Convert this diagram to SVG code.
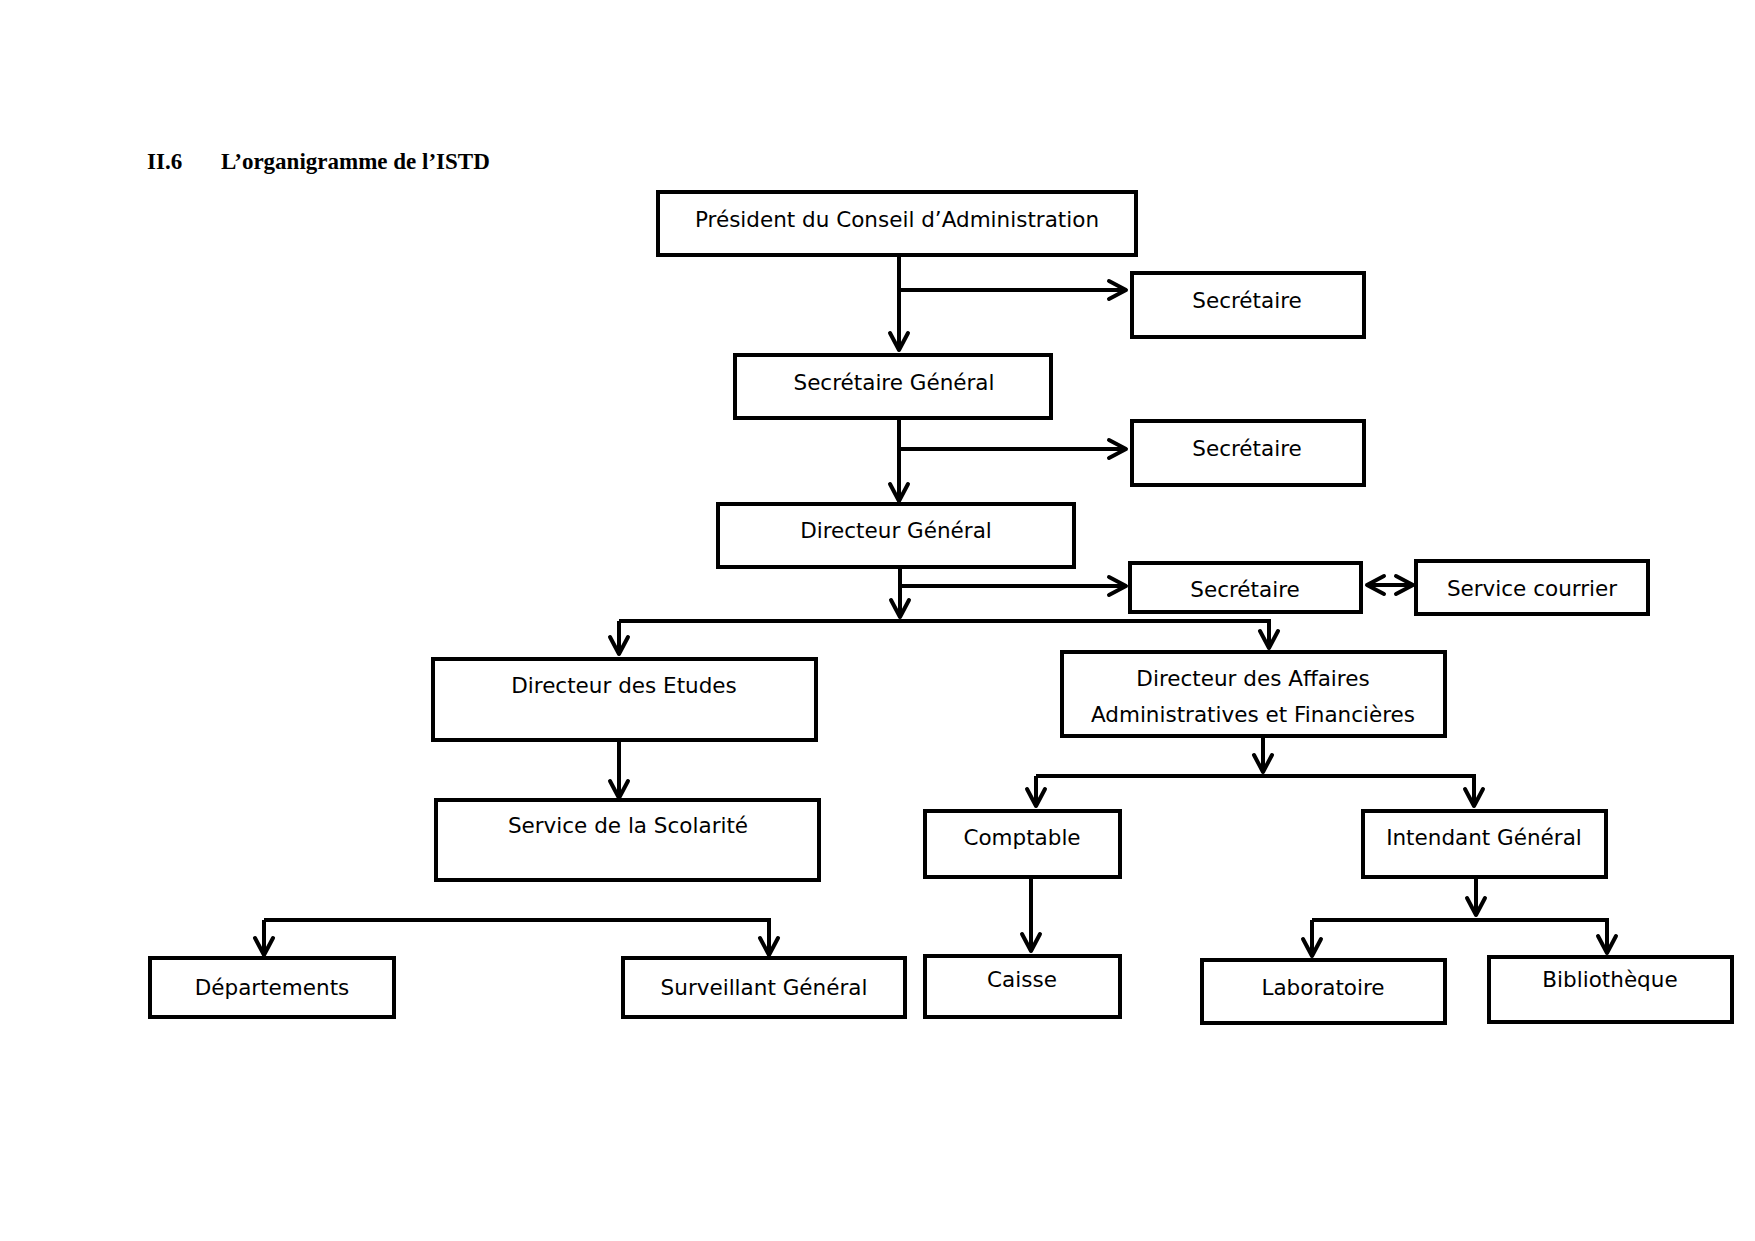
<svg xmlns="http://www.w3.org/2000/svg" width="1755" height="1241" viewBox="0 0 1755 1241">
<style>
.box{fill:#fff;stroke:#000;stroke-width:4}
.lbl{font-family:"Comic Sans MS","DejaVu Sans",sans-serif;font-size:21.5px;fill:#000;text-anchor:middle}
.ttl{font-family:"Liberation Serif","Times New Roman",serif;font-size:23px;font-weight:bold;fill:#000}
.con{fill:none;stroke:#000;stroke-width:4}
</style>
<defs>
<marker id="ah" markerUnits="userSpaceOnUse" viewBox="-22 -12 26 24" refX="0" refY="0" markerWidth="26" markerHeight="24" orient="auto-start-reverse">
<path d="M-17,-9 L0,0 L-17,9" fill="none" stroke="#000" stroke-width="4" stroke-linecap="round" stroke-linejoin="round"/>
</marker>
</defs>
<rect width="1755" height="1241" fill="#fff"/>
<g id="title">
<text class="ttl" x="147" y="169">II.6</text>
<text class="ttl" x="221" y="169">L’organigramme de l’ISTD</text>
</g>
<g id="connectors">
<path class="con" d="M899,254 V350" marker-end="url(#ah)"/>
<path class="con" d="M899,290 H1126" marker-end="url(#ah)"/>
<path class="con" d="M899,418 V501" marker-end="url(#ah)"/>
<path class="con" d="M899,449 H1126" marker-end="url(#ah)"/>
<path class="con" d="M900,565 V617" marker-end="url(#ah)"/>
<path class="con" d="M900,586 H1126" marker-end="url(#ah)"/>
<path class="con" d="M619,621 H1269 V648" marker-end="url(#ah)"/>
<path class="con" d="M619,621 V654" marker-end="url(#ah)"/>
<path class="con" d="M1367,585 H1413" marker-start="url(#ah)" marker-end="url(#ah)"/>
<path class="con" d="M619,740 V798" marker-end="url(#ah)"/>
<path class="con" d="M1263,736 V772" marker-end="url(#ah)"/>
<path class="con" d="M1036,776 H1474 V806" marker-end="url(#ah)"/>
<path class="con" d="M1036,776 V806" marker-end="url(#ah)"/>
<path class="con" d="M1031,877 V951" marker-end="url(#ah)"/>
<path class="con" d="M1476,877 V915" marker-end="url(#ah)"/>
<path class="con" d="M1312,920 H1607 V953" marker-end="url(#ah)"/>
<path class="con" d="M1312,920 V956" marker-end="url(#ah)"/>
<path class="con" d="M264,920 H769 V955" marker-end="url(#ah)"/>
<path class="con" d="M264,920 V955" marker-end="url(#ah)"/>
</g>
<g id="president"><rect class="box" x="658" y="192" width="478" height="63"/><text class="lbl" x="897" y="227">Président du Conseil d’Administration</text></g>
<g id="secretaire1"><rect class="box" x="1132" y="273" width="232" height="64"/><text class="lbl" x="1247" y="308">Secrétaire</text></g>
<g id="secretaire-general"><rect class="box" x="735" y="355" width="316" height="63"/><text class="lbl" x="894" y="390">Secrétaire Général</text></g>
<g id="secretaire2"><rect class="box" x="1132" y="421" width="232" height="64"/><text class="lbl" x="1247" y="456">Secrétaire</text></g>
<g id="directeur-general"><rect class="box" x="718" y="504" width="356" height="63"/><text class="lbl" x="896" y="538">Directeur Général</text></g>
<g id="secretaire3"><rect class="box" x="1130" y="563" width="231" height="49"/><text class="lbl" x="1245" y="597">Secrétaire</text></g>
<g id="service-courrier"><rect class="box" x="1416" y="561" width="232" height="53"/><text class="lbl" x="1532" y="596">Service courrier</text></g>
<g id="directeur-etudes"><rect class="box" x="433" y="659" width="383" height="81"/><text class="lbl" x="624" y="693">Directeur des Etudes</text></g>
<g id="daaf"><rect class="box" x="1062" y="652" width="383" height="84"/><text class="lbl" x="1253" y="686">Directeur des Affaires</text><text class="lbl" x="1253" y="722">Administratives et Financières</text></g>
<g id="scolarite"><rect class="box" x="436" y="800" width="383" height="80"/><text class="lbl" x="628" y="833">Service de la Scolarité</text></g>
<g id="comptable"><rect class="box" x="925" y="811" width="195" height="66"/><text class="lbl" x="1022" y="845">Comptable</text></g>
<g id="intendant"><rect class="box" x="1363" y="811" width="243" height="66"/><text class="lbl" x="1484" y="845">Intendant Général</text></g>
<g id="departements"><rect class="box" x="150" y="958" width="244" height="59"/><text class="lbl" x="272" y="995">Départements</text></g>
<g id="surveillant"><rect class="box" x="623" y="958" width="282" height="59"/><text class="lbl" x="764" y="995">Surveillant Général</text></g>
<g id="caisse"><rect class="box" x="925" y="956" width="195" height="61"/><text class="lbl" x="1022" y="987">Caisse</text></g>
<g id="laboratoire"><rect class="box" x="1202" y="960" width="243" height="63"/><text class="lbl" x="1323" y="995">Laboratoire</text></g>
<g id="bibliotheque"><rect class="box" x="1489" y="957" width="243" height="65"/><text class="lbl" x="1610" y="987">Bibliothèque</text></g>
</svg>
